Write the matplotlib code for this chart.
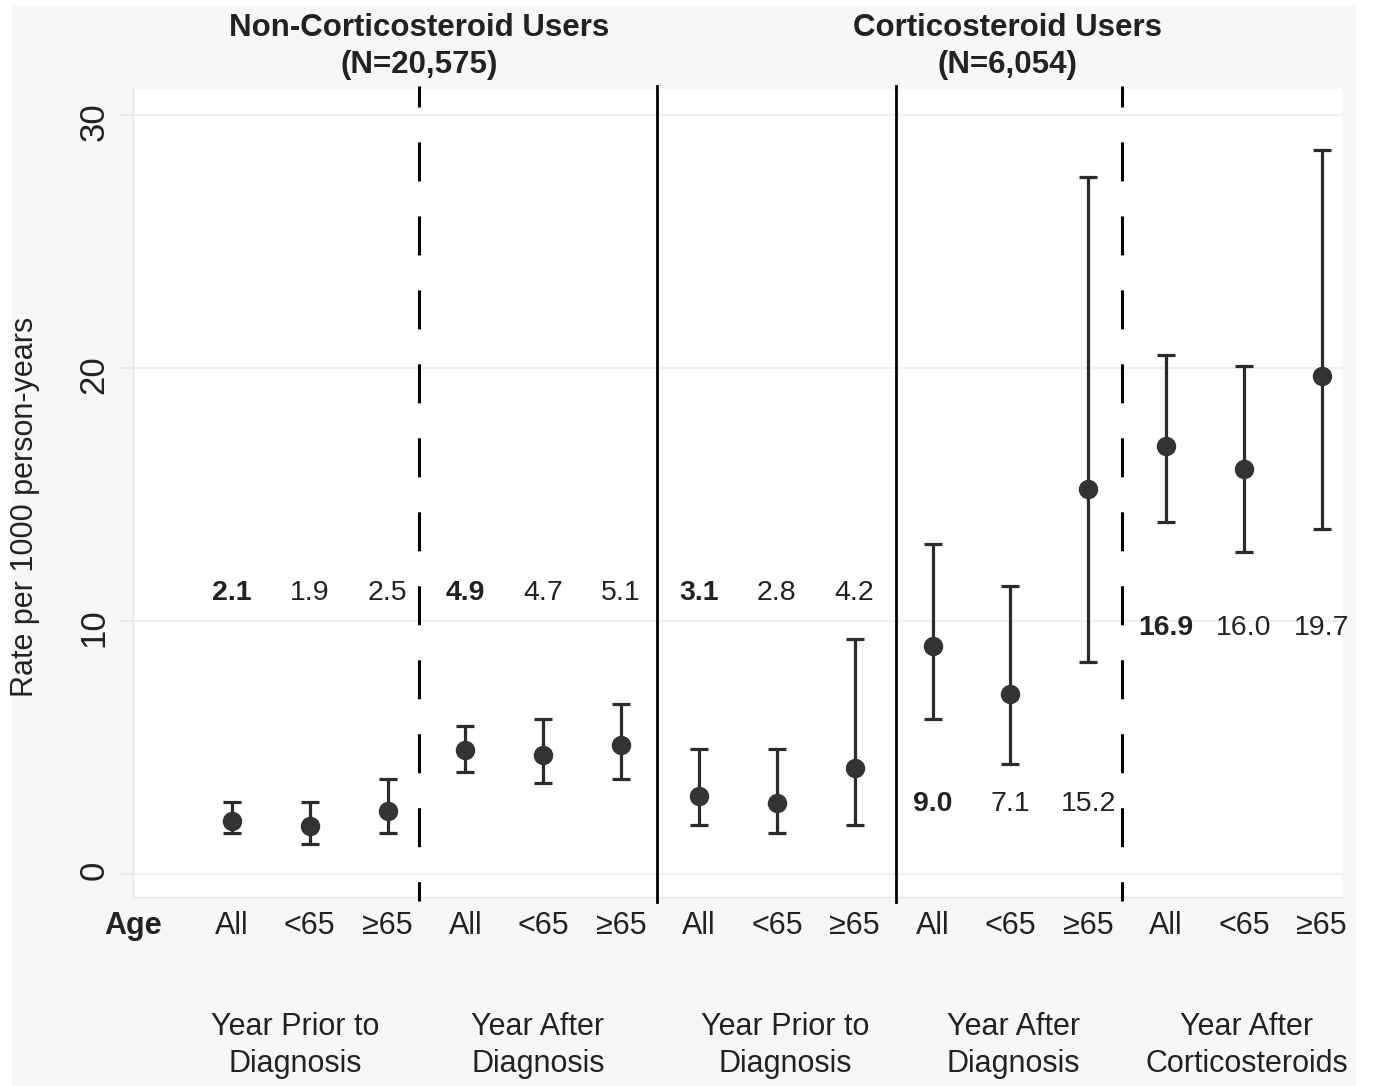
import matplotlib.pyplot as plt
from matplotlib.patches import Rectangle

plt.rcParams['font.family'] = ['Liberation Sans', 'DejaVu Sans']

# rate per 1000 person-years with 95% CI
age_groups = ["All", "<65", "≥65"] * 5
rates = [2.1, 1.9, 2.5, 4.9, 4.7, 5.1, 3.1, 2.8, 4.2,
         9.0, 7.1, 15.2, 16.9, 16.0, 19.7]
ci_low = [1.62, 1.19, 1.62, 4.03, 3.60, 3.75, 1.94, 1.62, 1.94,
          6.13, 4.35, 8.38, 13.91, 12.73, 13.64]
ci_high = [2.85, 2.85, 3.75, 5.85, 6.13, 6.72, 4.94, 4.94, 9.29,
           13.04, 11.38, 27.57, 20.50, 20.08, 28.60]

periods = ["Year Prior to\nDiagnosis", "Year After\nDiagnosis",
           "Year Prior to\nDiagnosis", "Year After\nDiagnosis",
           "Year After\nCorticosteroids"]
cohorts = ["Non-Corticosteroid Users\n(N=20,575)",
           "Corticosteroid Users\n(N=6,054)"]

# where things sit (layout only)
label_height = [11.1, 11.1, 11.1, 2.75, 9.72]
period_x = [0.81, 3.93, 7.11, 10.04, 13.04]
cohort_x = [2.41, 9.96]
dashed_x = [2.41, 11.43]
solid_x = [5.46, 8.53]

W, H = 1374, 1086
fig = plt.figure(figsize=(W / 100, H / 100), dpi=100, facecolor="white")
fig.patches.append(Rectangle((12 / W, 0), (1356 - 12) / W, 1080 / H,
                             transform=fig.transFigure, facecolor="#f7f7f7",
                             edgecolor="none", zorder=-10))

ax = fig.add_axes([133 / W, (H - 897) / H, (1342 - 133) / W, (897 - 89) / H])
ax.set_facecolor("white")

x = list(range(len(rates)))
yerr = [[r - lo for r, lo in zip(rates, ci_low)],
        [hi - r for r, hi in zip(rates, ci_high)]]
ax.errorbar(x, rates, yerr=yerr, fmt="o", color="#333333", ecolor="#2b2b2b",
            markersize=13, elinewidth=2.3, capsize=6.2, capthick=2.3, zorder=5)

for i, r in enumerate(rates):
    g = i // 3
    ax.text(i, label_height[g], f"{r:.1f}", ha="center", va="center",
            fontsize=20.5, color="#222222",
            fontweight="bold" if i % 3 == 0 else "normal")

xt = ax.get_xaxis_transform()
for xs in dashed_x:
    ax.plot([xs, xs], [1.0037, -0.005], transform=xt, color="black", lw=2.2,
            linestyle=(5.9, (12.76, 11.45)), clip_on=False, zorder=4)
for xs in solid_x:
    ax.plot([xs, xs], [1.0037, -0.006], transform=xt, color="black", lw=2.0,
            clip_on=False, zorder=4)

ax.set_xlim(-1.27, 14.26)
ax.set_ylim(-0.91, 31.03)

ax.set_yticks([0, 10, 20, 30])
ax.yaxis.grid(True, color="#f0f0f0", lw=1.6)
ax.set_axisbelow(True)
ax.tick_params(axis="y", labelrotation=90, labelsize=25, length=9.4,
               width=1.5, color="#e8e8e8", pad=7, labelcolor="#222222")
ax.set_xticks([])
for s in ["top", "right"]:
    ax.spines[s].set_visible(False)
for s in ["left", "bottom"]:
    ax.spines[s].set_color("#e6e6e6")
    ax.spines[s].set_linewidth(1)

for i, lab in enumerate(age_groups):
    ax.text(i, -0.0359, lab, transform=xt, ha="center", va="center",
            fontsize=22, color="#222222")
ax.text(0, -0.0359, "Age", transform=ax.transAxes, ha="center", va="center",
        fontsize=22, fontweight="bold", color="#222222")

for px, lab in zip(period_x, periods):
    ax.text(px, -0.184, lab, transform=xt, ha="center", va="center",
            fontsize=22, color="#222222", linespacing=1.33)

for cx, lab in zip(cohort_x, cohorts):
    ax.text(cx, 1.053, lab, transform=xt, ha="center", va="center",
            fontsize=22.5, fontweight="bold", color="#222222", linespacing=1.3)

fig.text(25 / W, 1 - 507 / H, "Rate per 1000 person-years", rotation=90,
         ha="center", va="center", fontsize=22, color="#222222")

fig.savefig("out.png", dpi=100, facecolor=fig.get_facecolor())
